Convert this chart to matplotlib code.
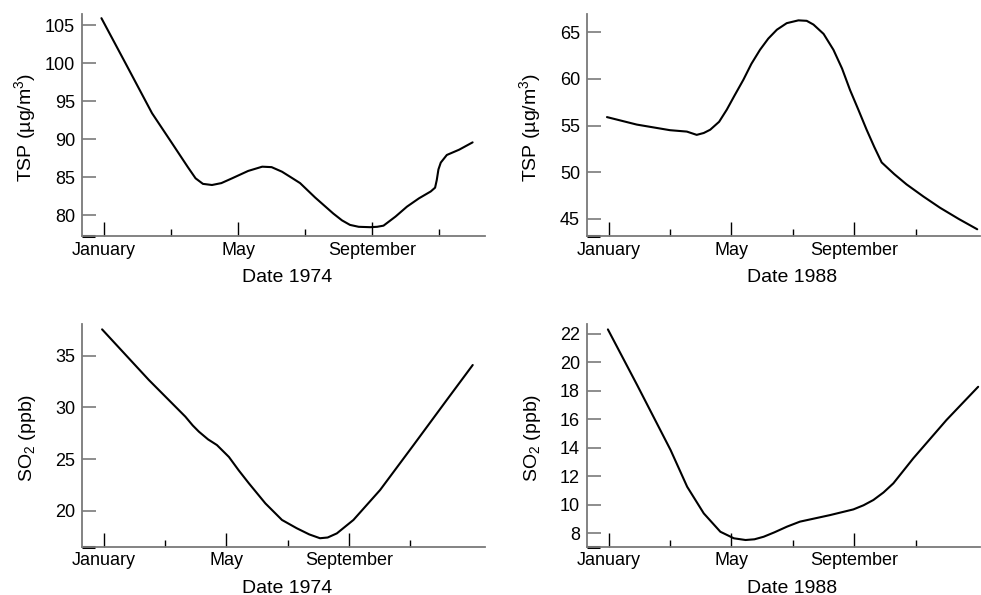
import matplotlib
matplotlib.use("Agg")
import matplotlib.pyplot as plt

plt.rcParams['font.family'] = ['Liberation Sans', 'DejaVu Sans']
plt.rcParams['mathtext.fontset'] = 'custom'
plt.rcParams['mathtext.rm'] = 'Liberation Sans'
plt.rcParams['mathtext.it'] = 'Liberation Sans:italic'
plt.rcParams['mathtext.bf'] = 'Liberation Sans:bold'

# months since January (0 = January)
tsp74_m = [-0.08, 0.64, 1.43, 2.03, 2.5, 2.73, 2.95, 3.22, 3.5, 3.82, 4.3, 4.72, 5.0, 5.31, 5.6, 5.85, 6.3, 6.84, 7.1, 7.34, 7.6, 7.94, 8.15, 8.34, 8.7, 9.04, 9.4, 9.75, 9.88, 9.93, 9.98, 10.05, 10.23, 10.6, 11.0]
tsp74_v = [105.9, 99.96, 93.4, 89.43, 86.3, 84.83, 84.1, 83.95, 84.2, 84.83, 85.8, 86.36, 86.3, 85.7, 84.9, 84.2, 82.3, 80.2, 79.3, 78.7, 78.45, 78.4, 78.45, 78.6, 79.8, 81.1, 82.2, 83.1, 83.6, 84.6, 86.0, 86.9, 87.9, 88.6, 89.56]

tsp88_m = [-0.05, 0.92, 2.0, 2.55, 2.87, 3.1, 3.31, 3.6, 3.85, 4.1, 4.39, 4.65, 4.93, 5.2, 5.48, 5.8, 6.18, 6.45, 6.67, 7.0, 7.32, 7.6, 7.86, 8.13, 8.4, 8.65, 8.89, 9.3, 9.70, 10.25, 10.79, 11.4, 12.0]
tsp88_v = [55.9, 55.1, 54.5, 54.35, 54.0, 54.2, 54.55, 55.4, 56.7, 58.2, 59.9, 61.6, 63.1, 64.3, 65.25, 65.95, 66.25, 66.2, 65.8, 64.8, 63.1, 61.1, 58.8, 56.7, 54.55, 52.7, 51.05, 49.8, 48.7, 47.4, 46.2, 45.0, 43.9]

so274_m = [-0.055, 1.47, 2.66, 2.9, 3.1, 3.4, 3.69, 4.08, 4.4, 4.73, 5.27, 5.81, 6.29, 6.7, 7.05, 7.3, 7.6, 8.14, 9.01, 10.1, 11.18, 12.03]
so274_v = [37.55, 32.65, 29.1, 28.25, 27.65, 26.9, 26.35, 25.2, 23.9, 22.65, 20.7, 19.1, 18.3, 17.7, 17.33, 17.4, 17.8, 19.1, 22.0, 26.35, 30.7, 34.1]

so288_m = [-0.02, 0.93, 2.02, 2.56, 3.1, 3.64, 4.08, 4.46, 4.75, 5.05, 5.4, 5.81, 6.23, 7.21, 7.97, 8.3, 8.62, 8.95, 9.27, 9.92, 11.0, 12.03]
so288_v = [22.3, 18.4, 13.83, 11.25, 9.38, 8.09, 7.63, 7.51, 7.56, 7.74, 8.05, 8.45, 8.8, 9.26, 9.66, 9.95, 10.32, 10.85, 11.49, 13.25, 15.94, 18.27]

major_ticks = [0, 4, 8]
major_labels = ['January', 'May', 'September']
minor_ticks = [2, 6, 10]

panels = [
    dict(m=tsp74_m, v=tsp74_v, rect=[82, 14, 485, 236], xlim=(-0.66, 11.37), ylim=(77.24, 106.45),
         yticks=[80, 85, 90, 95, 100, 105], ylabel='TSP (µg/m$^3$)', xlabel='Date 1974', xl=0.509),
    dict(m=tsp88_m, v=tsp88_v, rect=[587, 14, 980, 236], xlim=(-0.7, 12.09), ylim=(43.18, 66.93),
         yticks=[45, 50, 55, 60, 65], ylabel='TSP (µg/m$^3$)', xlabel='Date 1988', xl=0.523),
    dict(m=so274_m, v=so274_v, rect=[82, 324, 485, 546.7], xlim=(-0.71, 12.43), ylim=(16.51, 38.07),
         yticks=[20, 25, 30, 35], ylabel='SO$_2$ (ppb)', xlabel='Date 1974', xl=0.509),
    dict(m=so288_m, v=so288_v, rect=[587, 324, 980, 546.7], xlim=(-0.7, 12.09), ylim=(7.04, 22.68),
         yticks=[8, 10, 12, 14, 16, 18, 20, 22], ylabel='SO$_2$ (ppb)', xlabel='Date 1988', xl=0.523),
]

W, H = 981, 595
fig = plt.figure(figsize=(W / 100, H / 100), dpi=100)
for p in panels:
    x0, y0, x1, y1 = p['rect']
    ax = fig.add_axes([x0 / W, 1 - y1 / H, (x1 - x0) / W, (y1 - y0) / H])
    ax.plot(p['m'], p['v'], color='black', lw=1.5, solid_capstyle='round', solid_joinstyle='round')
    ax.set_xlim(*p['xlim'])
    ax.set_ylim(*p['ylim'])
    for s in ['top', 'right']:
        ax.spines[s].set_visible(False)
    for s in ['left', 'bottom']:
        ax.spines[s].set_color('#7a7a7a')
        ax.spines[s].set_linewidth(1.3)
    ax.set_yticks(p['yticks'])
    ax.tick_params(axis='y', direction='in', length=10, width=1.2, color='#7a7a7a',
                   labelsize=13, pad=5)
    ax.set_xticks(major_ticks)
    ax.set_xticklabels(major_labels)
    ax.set_xticks(minor_ticks, minor=True)
    ax.tick_params(axis='x', which='major', direction='in', length=10, width=1.0, color='black',
                   labelsize=13, pad=4)
    ax.tick_params(axis='x', which='minor', direction='in', length=5, width=1.0, color='black')
    # short dark mark at the axes corner
    ax.plot([0, 13.0 / (x1 - x0)], [0, 0], transform=ax.transAxes, color='black',
            lw=2.2, clip_on=False, solid_capstyle='butt')
    ax.set_ylabel(p['ylabel'], fontsize=14)
    ax.yaxis.set_label_coords(-44.0 / (x1 - x0), 0.49)
    ax.set_xlabel(p['xlabel'], fontsize=14)
    ax.xaxis.set_label_coords(p['xl'], -0.148)

fig.savefig('out.png', dpi=100)
